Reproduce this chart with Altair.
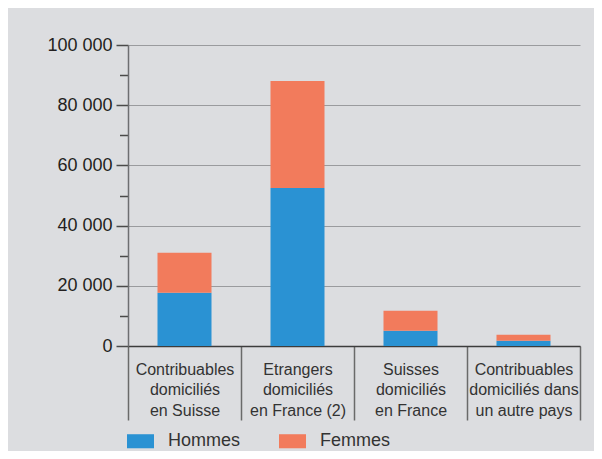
import altair as alt
import pandas as pd

categories = [
    "Contribuables\ndomiciliés\nen Suisse",
    "Etrangers\ndomiciliés\nen France (2)",
    "Suisses\ndomiciliés\nen France",
    "Contribuables\ndomiciliés dans\nun autre pays",
]
hommes = [17700, 52500, 5100, 1750]
femmes = [13300, 35500, 6600, 2000]
series = ["Hommes", "Femmes"]
colors = ["#2a92d3", "#f27b5c"]
y_ticks = [0, 10000, 20000, 30000, 40000, 50000, 60000, 70000, 80000, 90000, 100000]

rows = []
for i, c in enumerate(categories):
    rows.append({"cat": c, "serie": "Hommes", "val": hommes[i], "ord": 0})
    rows.append({"cat": c, "serie": "Femmes", "val": femmes[i], "ord": 1})
df = pd.DataFrame(rows)

FONT = "Liberation Sans"

chart = alt.Chart(df).mark_bar(width={"band": 0.478}).encode(
    x=alt.X(
        "cat:N",
        sort=categories,
        scale=alt.Scale(paddingInner=0, paddingOuter=0),
        axis=alt.Axis(
            title=None,
            labelAngle=0,
            labelExpr="split(datum.label, '\\n')",
            labelFont=FONT,
            labelFontSize=16,
            labelColor="#333333",
            labelLineHeight=20.3,
            labelBaseline="top",
            labelPadding=-58.5,
            tickBand="extent",
            tickSize=74,
            tickColor="#6a6a6a",
            tickWidth=1.5,
            domainColor="#3c3c3c",
            domainWidth=1.5,
            grid=False,
        ),
    ),
    y=alt.Y(
        "val:Q",
        stack="zero",
        scale=alt.Scale(domain=[0, 100000], nice=False),
        axis=alt.Axis(
            title=None,
            values=y_ticks,
            labelExpr="datum.value % 20000 === 0 ? replace(format(datum.value, ','), ',', ' ') : ''",
            labelFont=FONT,
            labelFontSize=18,
            labelColor="#231f20",
            labelPadding=4,
            tickSize={"condition": {"test": "datum.value % 20000 === 0", "value": 12}, "value": 8.5},
            tickColor="#4a4a4a",
            tickWidth=1.5,
            domainColor="#6d6e71",
            domainWidth=1.5,
            grid=True,
            gridColor="#9a9b9e",
            gridWidth=1.2,
            gridOpacity={"condition": {"test": "datum.value % 20000 === 0", "value": 1}, "value": 0},
        ),
    ),
    color=alt.Color(
        "serie:N",
        scale=alt.Scale(domain=series, range=colors),
        legend=alt.Legend(
            title=None,
            orient="none",
            direction="horizontal",
            legendX=-1,
            legendY=382.5,
            symbolType="M-1,-0.52H1V0.52H-1Z",
            symbolSize=729,
            symbolStrokeWidth=0,
            labelFont=FONT,
            labelFontSize=18,
            labelColor="#333333",
            labelOffset=14,
            columnPadding=38,
            padding=0,
        ),
    ),
    order=alt.Order("ord:Q"),
).properties(
    width=452,
    height=301,
    autosize=alt.AutoSizeParams(type="none"),
    padding={"left": 120, "top": 37, "right": 14, "bottom": 105},
    background="#dcdde0",
).configure_view(stroke=None)

chart.save("out.html", embed_options={"renderer": "svg", "actions": False})
